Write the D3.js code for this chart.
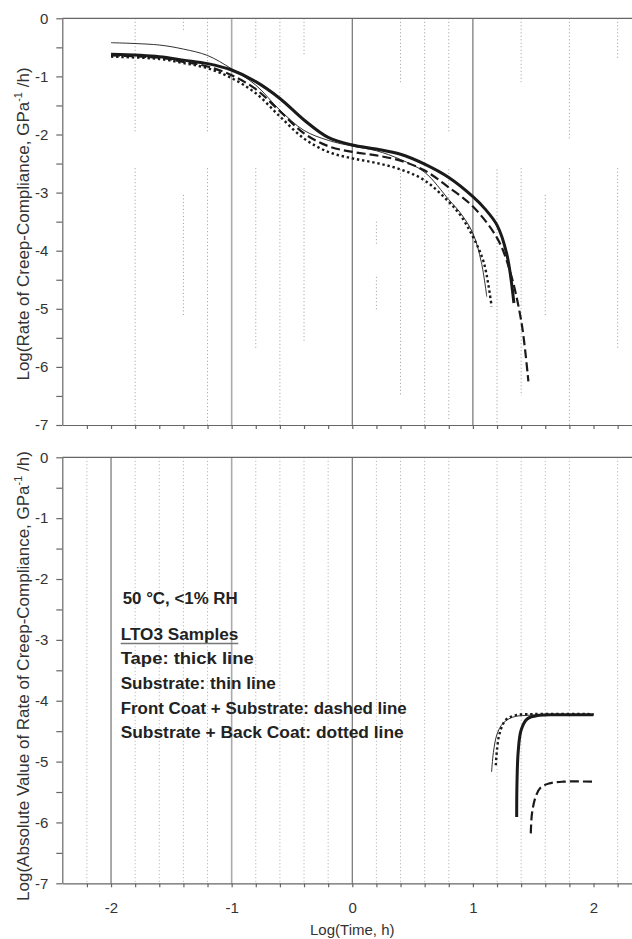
<!DOCTYPE html>
<html>
<head>
<meta charset="utf-8">
<script src="https://cdn.jsdelivr.net/npm/d3@7"></script>
<style>
  html, body { margin: 0; padding: 0; background: #fff; }
  svg { display: block; font-family: "Liberation Sans", Arial, sans-serif; }
</style>
</head>
<body>
<svg id="chart" width="632" height="939"></svg>
<script>
// ---------------- DATA ----------------
const xTickValues = [-2.2,-2,-1.8,-1.6,-1.4,-1.2,-1,-0.8,-0.6,-0.4,-0.2,0,0.2,0.4,0.6,0.8,1,1.2,1.4,1.6,1.8,2,2.2];
const xTickLabels = [-2,-1,0,1,2];
const yTickValues = [0,-0.5,-1,-1.5,-2,-2.5,-3,-3.5,-4,-4.5,-5,-5.5,-6,-6.5,-7];
const yTickLabels = [0,-1,-2,-3,-4,-5,-6,-7];

// top panel: Log(rate of creep compliance)
const topTape      = [[-2.0,-0.62],[-1.6,-0.66],[-1.4,-0.72],[-1.2,-0.78],[-1.0,-0.89],[-0.8,-1.09],[-0.6,-1.38],[-0.4,-1.75],[-0.2,-2.05],[0,-2.18],[0.2,-2.25],[0.4,-2.34],[0.6,-2.51],[0.8,-2.74],[1.0,-3.07],[1.1,-3.28],[1.2,-3.56],[1.28,-4.05],[1.34,-4.9]];
const topSubstrate = [[-2.0,-0.42],[-1.6,-0.46],[-1.4,-0.53],[-1.2,-0.64],[-1.0,-0.87],[-0.8,-1.15],[-0.6,-1.58],[-0.4,-1.93],[-0.2,-2.1],[0,-2.2],[0.2,-2.28],[0.4,-2.43],[0.6,-2.65],[0.8,-3.12],[0.9,-3.36],[1.0,-3.7],[1.07,-4.2],[1.115,-4.79]];
const topFront     = [[-2.0,-0.64],[-1.6,-0.68],[-1.4,-0.75],[-1.2,-0.83],[-1.0,-0.98],[-0.8,-1.22],[-0.6,-1.6],[-0.4,-1.98],[-0.2,-2.2],[0,-2.3],[0.2,-2.36],[0.4,-2.45],[0.6,-2.62],[0.8,-2.91],[1.0,-3.24],[1.2,-3.78],[1.3,-4.3],[1.4,-5.2],[1.46,-6.25]];
const topBack      = [[-2.0,-0.66],[-1.6,-0.7],[-1.4,-0.77],[-1.2,-0.86],[-1.0,-1.03],[-0.8,-1.29],[-0.6,-1.69],[-0.4,-2.07],[-0.2,-2.3],[0,-2.41],[0.2,-2.49],[0.4,-2.6],[0.6,-2.79],[0.8,-3.16],[0.9,-3.4],[1.0,-3.76],[1.09,-4.2],[1.155,-4.96]];

// bottom panel: Log(|rate of creep compliance|)
const botTape      = [[1.363,-5.91],[1.365,-5.4],[1.375,-4.85],[1.4,-4.48],[1.45,-4.3],[1.55,-4.24],[1.7,-4.23],[2.0,-4.23]];
const botSubstrate = [[1.155,-5.17],[1.17,-4.85],[1.2,-4.55],[1.25,-4.37],[1.33,-4.27],[1.45,-4.24],[2.0,-4.23]];
const botFront     = [[1.48,-6.18],[1.49,-5.85],[1.52,-5.58],[1.56,-5.43],[1.63,-5.36],[1.75,-5.33],[2.0,-5.33]];
const botBack      = [[1.19,-5.06],[1.2,-4.8],[1.22,-4.55],[1.27,-4.32],[1.35,-4.24],[1.5,-4.22],[2.0,-4.22]];

// grid: solid decade lines and dotted minor lines (x, from, to)
const topSolid = [-1, 0, 1];
const botSolid = [-2, -1, 0];
const topDotted = [
  [-1.8,0,-1.98],[-1.8,-2.58,-7],[-1.4,0,-0.2],[-1.4,-3.04,-5.14],
  [-1.2,0,-1.98],[-1.2,-2.58,-7],[-0.8,0,-0.72],[-0.8,-2.58,-5.68],
  [-0.6,0,-7],[-0.4,0,-0.66],[-0.4,-2.58,-5.59],
  [0.2,-3.5,-3.9],[0.2,-4.45,-5.05],[0.4,0,-1.1],[0.4,-2.6,-6.5],
  [0.6,0,-7],[0.8,0,-1.98],[0.8,-2.6,-6.9],[1.2,-2.6,-7],
  [1.4,0,-1.1],[1.4,-2.58,-6.5],[1.6,-3.04,-5.14],
  [1.8,0,-2.1],[1.8,-2.58,-7],[2.2,0,-0.72],[2.2,-2.58,-5.68]
];
const botDotted = [-2.2,-1.8,-1.6,-1.4,-1.2,-0.8,-0.6,-0.4,-0.2,0.2,0.4,0.6,0.8,1.2,1.4,1.6,1.8,2.2];

const legendLines = ["50 °C, <1% RH","LTO3 Samples","Tape: thick line","Substrate: thin line","Front Coat + Substrate: dashed line","Substrate + Back Coat: dotted line"];

// ---------------- LAYOUT ----------------
const svg = d3.select("#chart");
const x = d3.scaleLinear().domain([-2.404, 2.319]).range([62.3, 632]);
const yTop = d3.scaleLinear().domain([-7, 0]).range([425, 18.3]);
const yBot = d3.scaleLinear().domain([-7, 0]).range([883.3, 457.3]);

const axisColor = "#666";
const ink = "#1a1a1a";

const styles = {
  tape:      {w: 3.0, dash: null},
  substrate: {w: 0.9, dash: null},
  front:     {w: 2.2, dash: "9,4"},
  back:      {w: 2.4, dash: "2.4,2.8"}
};

function panel(y, solid, dotted, dottedFull, series, showLabels) {
  const g = svg.append("g");
  if (dottedFull) {
    g.selectAll(".dg").data(dotted).enter().append("line")
      .attr("x1", d => x(d)).attr("x2", d => x(d))
      .attr("y1", y(0)).attr("y2", y(-7))
      .attr("stroke", "#aaa").attr("stroke-width", 1).attr("stroke-dasharray", "1,2.5");
  } else {
    g.selectAll(".dg").data(dotted).enter().append("line")
      .attr("x1", d => x(d[0])).attr("x2", d => x(d[0]))
      .attr("y1", d => y(d[1])).attr("y2", d => y(d[2]))
      .attr("stroke", "#999").attr("stroke-width", 1).attr("stroke-dasharray", "1,2.5");
  }
  g.selectAll(".sg").data(solid).enter().append("line")
    .attr("x1", d => x(d)).attr("x2", d => x(d))
    .attr("y1", y(0)).attr("y2", y(-7))
    .attr("stroke", d => d === -1 ? "#aaa" : "#666")
    .attr("stroke-width", d => d === -1 ? 1.6 : 1.1);
  g.append("line").attr("x1", x.range()[0]).attr("x2", x.range()[1])
    .attr("y1", y(0)).attr("y2", y(0)).attr("stroke", axisColor).attr("stroke-width", 1.2);

  const ya = g.append("g").attr("transform", `translate(${x.range()[0]},0)`)
    .call(d3.axisLeft(y).tickValues(yTickValues).tickSize(6).tickSizeOuter(0).tickPadding(8)
      .tickFormat(d => yTickLabels.includes(d) ? (d === 0 ? "0" : String(d)) : ""));
  ya.selectAll("path, line").attr("stroke", axisColor).attr("stroke-width", 1.2);
  ya.selectAll("text").attr("fill", "#333").style("font-size", "15px");

  const xa = g.append("g").attr("transform", `translate(0,${y(-7)})`)
    .call(d3.axisBottom(x).tickValues(xTickValues).tickSize(4).tickSizeOuter(0).tickPadding(15)
      .tickFormat(d => (showLabels && xTickLabels.some(v => Math.abs(v - d) < 1e-9)) ? String(Math.round(d)) : ""));
  xa.selectAll("path, line").attr("stroke", axisColor).attr("stroke-width", 1.2);
  xa.selectAll("text").attr("fill", "#333").style("font-size", "15px");

  const line = d3.line().x(d => x(d[0])).y(d => y(d[1])).curve(d3.curveCatmullRom.alpha(0.5));
  series.forEach(s => {
    g.append("path").attr("d", line(s.data))
      .attr("fill", "none").attr("stroke", ink)
      .attr("stroke-width", styles[s.style].w)
      .attr("stroke-dasharray", styles[s.style].dash)
      .attr("stroke-linejoin", "round");
  });
  return g;
}

panel(yTop, topSolid, topDotted, false, [
  {data: topSubstrate, style: "substrate"},
  {data: topBack, style: "back"},
  {data: topFront, style: "front"},
  {data: topTape, style: "tape"}
], false);

panel(yBot, botSolid, botDotted, true, [
  {data: botSubstrate, style: "substrate"},
  {data: botBack, style: "back"},
  {data: botFront, style: "front"},
  {data: botTape, style: "tape"}
], true);

function yTitle(cx, cy, pre) {
  const t = svg.append("text")
    .attr("transform", `translate(${cx},${cy}) rotate(-90)`)
    .attr("text-anchor", "middle").attr("fill", "#333").style("font-size", "17px");
  t.append("tspan").text(pre + ", GPa");
  t.append("tspan").attr("dy", -7).style("font-size", "11px").text("-1");
  t.append("tspan").attr("dy", 7).text(" /h)");
}
yTitle(29, 224, "Log(Rate of Creep-Compliance");
yTitle(29, 676, "Log(Absolute Value of Rate of Creep-Compliance");

svg.append("text").attr("x", x(0)).attr("y", 935).attr("text-anchor", "middle")
  .attr("fill", "#333").style("font-size", "15px").text("Log(Time, h)");

const legendX = [122.7, 120.7, 120.7, 120.7, 120.7, 120.7];
const legendY = [603.5, 639.5, 664, 689, 713.5, 738];
const legendW = [115, 117.6, 133, 155, 286, 283];
legendLines.forEach((s, i) => {
  svg.append("text").attr("x", legendX[i]).attr("y", legendY[i])
    .attr("fill", "#222").style("font-size", "16px").style("font-weight", "bold")
    .attr("textLength", legendW[i]).attr("lengthAdjust", "spacingAndGlyphs")
    .text(s);
});
svg.append("line").attr("x1", legendX[1]).attr("x2", legendX[1] + legendW[1])
  .attr("y1", legendY[1] + 4).attr("y2", legendY[1] + 4)
  .attr("stroke", "#777").attr("stroke-width", 1.5);
</script>
</body>
</html>
